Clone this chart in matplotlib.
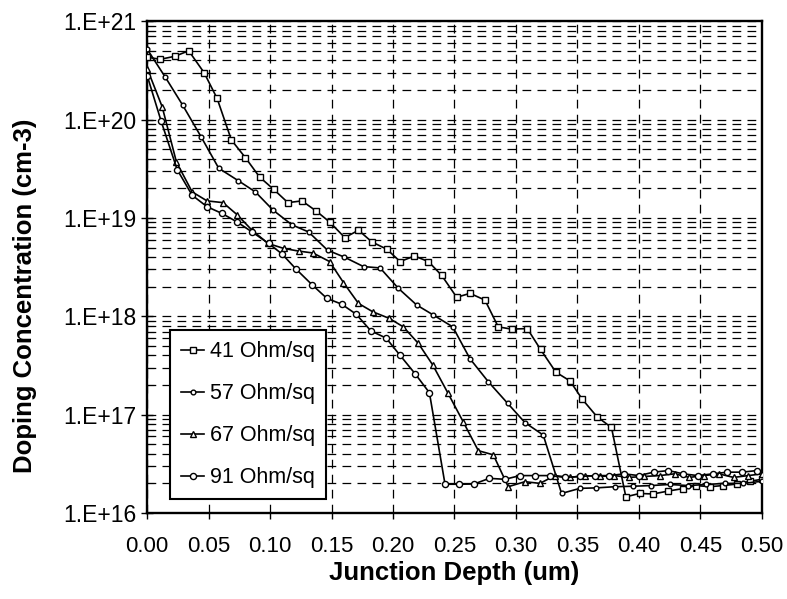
import numpy as np
import matplotlib
matplotlib.use('Agg')
import matplotlib.pyplot as plt
from matplotlib.ticker import LogLocator, FixedLocator, NullFormatter

plt.rcParams['font.family'] = ['Liberation Sans', 'DejaVu Sans']

# --- data ---
x_41 = [0.0, 0.0108, 0.0225, 0.0338, 0.0463, 0.0569, 0.0685, 0.0799, 0.0915, 0.1029,
        0.1145, 0.1259, 0.1373, 0.1484, 0.1608, 0.1719, 0.1828, 0.195, 0.2058, 0.2174,
        0.2288, 0.2396, 0.2518, 0.2626, 0.2748, 0.2856, 0.2965, 0.3092, 0.32, 0.3325,
        0.344, 0.354, 0.366, 0.3777, 0.3894, 0.4007, 0.4115, 0.4237, 0.4359, 0.4468,
        0.4576, 0.4684, 0.4798, 0.49, 0.5]
y_41 = [4.3e20, 4.1e20, 4.4e20, 5.0e20, 3.0e20, 1.64e20, 6.2e19, 4.1e19, 2.6e19, 1.95e19,
        1.43e19, 1.49e19, 1.18e19, 9.1e18, 6.3e18, 7.5e18, 5.7e18, 4.8e18, 3.6e18, 4.1e18,
        3.6e18, 2.6e18, 1.56e18, 1.71e18, 1.46e18, 7.8e17, 7.4e17, 7.5e17, 4.6e17, 2.7e17,
        2.2e17, 1.43e17, 9.5e16, 7.4e16, 1.46e16, 1.58e16, 1.56e16, 1.67e16, 1.77e16, 1.9e16,
        1.85e16, 1.9e16, 1.97e16, 2.1e16, 2.2e16]

x_57 = [0.0, 0.0149, 0.0289, 0.0441, 0.0582, 0.0739, 0.088, 0.1024, 0.1178, 0.1313,
        0.1467, 0.1603, 0.176, 0.1895, 0.2044, 0.2193, 0.2328, 0.2486, 0.2626, 0.2775,
        0.2933, 0.3073, 0.3222, 0.3371, 0.352, 0.3655, 0.3804, 0.395, 0.41, 0.425,
        0.44, 0.455, 0.47, 0.485, 0.5]
y_57 = [5.2e20, 2.68e20, 1.4e20, 6.6e19, 3.2e19, 2.4e19, 1.84e19, 1.2e19, 8.5e18, 7.2e18,
        4.7e18, 4.0e18, 3.2e18, 3.1e18, 1.92e18, 1.3e18, 1.03e18, 7.8e17, 3.7e17, 2.16e17,
        1.3e17, 8.3e16, 6.2e16, 1.58e16, 1.78e16, 1.8e16, 1.85e16, 1.87e16, 1.9e16, 1.95e16,
        1.9e16, 1.95e16, 2.0e16, 2.0e16, 2.1e16]

x_67 = [0.0, 0.0122, 0.0238, 0.0366, 0.0487, 0.0617, 0.0731, 0.0853, 0.0983, 0.111,
        0.1232, 0.1349, 0.1484, 0.1597, 0.1719, 0.1836, 0.1971, 0.2084, 0.2206, 0.2323,
        0.2445, 0.2572, 0.2694, 0.2816, 0.2937, 0.3073, 0.3195, 0.3317, 0.344, 0.356,
        0.368, 0.38, 0.392, 0.404, 0.417, 0.429, 0.441, 0.453, 0.465, 0.477,
        0.489, 0.5]
y_67 = [3.3e20, 1.35e20, 3.7e19, 1.84e19, 1.49e19, 1.43e19, 1.08e19, 7.5e18, 5.5e18, 4.9e18,
        4.6e18, 4.4e18, 3.6e18, 2.2e18, 1.35e18, 1.11e18, 9.5e17, 7.8e17, 5.3e17, 3.2e17,
        1.67e17, 8.4e16, 4.3e16, 3.9e16, 1.85e16, 2.08e16, 2.0e16, 2.4e16, 2.3e16, 2.4e16,
        2.35e16, 2.4e16, 2.3e16, 2.35e16, 2.4e16, 2.5e16, 2.3e16, 2.4e16, 2.5e16, 2.3e16,
        2.4e16, 2.5e16]

x_91 = [0.0, 0.0114, 0.0244, 0.0366, 0.0487, 0.0609, 0.0731, 0.0853, 0.0988, 0.1097,
        0.1213, 0.134, 0.1462, 0.1581, 0.17, 0.182, 0.1944, 0.2058, 0.218, 0.2296,
        0.2423, 0.254, 0.2659, 0.2783, 0.291, 0.3033, 0.3154, 0.3276, 0.3398, 0.352,
        0.364, 0.376, 0.388, 0.4, 0.412, 0.424, 0.436, 0.448, 0.46, 0.472,
        0.484, 0.496]
y_91 = [2.8e20, 9.6e19, 3.1e19, 1.7e19, 1.3e19, 1.11e19, 9.1e18, 7.2e18, 5.5e18, 4.3e18,
        3.0e18, 2.1e18, 1.52e18, 1.33e18, 1.05e18, 7.1e17, 6.0e17, 4.0e17, 2.6e17, 1.67e17,
        1.96e16, 1.96e16, 1.97e16, 2.25e16, 2.2e16, 2.4e16, 2.4e16, 2.4e16, 2.3e16, 2.35e16,
        2.4e16, 2.4e16, 2.5e16, 2.4e16, 2.6e16, 2.7e16, 2.5e16, 2.4e16, 2.5e16, 2.6e16,
        2.6e16, 2.7e16]

series_labels = ['41 Ohm/sq', '57 Ohm/sq', '67 Ohm/sq', '91 Ohm/sq']
x_ticks = [0.00, 0.05, 0.10, 0.15, 0.20, 0.25, 0.30, 0.35, 0.40, 0.45, 0.50]
y_ticks = [1e16, 1e17, 1e18, 1e19, 1e20, 1e21]
y_tick_labels = ['1.E+16', '1.E+17', '1.E+18', '1.E+19', '1.E+20', '1.E+21']

fig = plt.figure(figsize=(7.87, 5.99), dpi=100)
ax = fig.add_axes([0.187, 0.1436, 0.781, 0.821])

styles = [('s', 4.8), ('o', 3.4), ('^', 4.6), ('o', 4.4)]
for (xs, ys), lab, (mk, ms) in zip([(x_41, y_41), (x_57, y_57), (x_67, y_67), (x_91, y_91)],
                                   series_labels, styles):
    ax.plot(xs, ys, color='black', lw=1.2, marker=mk, ms=ms, mfc='white',
            mec='black', mew=1.0, label=lab, zorder=3)

ax.set_yscale('log')
ax.set_xlim(0, 0.5)
ax.set_ylim(1e16, 1e21)

ax.xaxis.set_major_locator(FixedLocator(x_ticks))
ax.set_xticklabels([f'{v:.2f}' for v in x_ticks])
ax.yaxis.set_major_locator(FixedLocator(y_ticks))
ax.set_yticklabels(y_tick_labels)
ax.yaxis.set_minor_locator(LogLocator(base=10, subs=np.arange(2, 10), numticks=20))
ax.yaxis.set_minor_formatter(NullFormatter())

# dashed grid everywhere
dash = (0, (7, 5))
ax.grid(True, axis='x', which='major', color='black', lw=0.9, linestyle=dash)
ax.grid(True, axis='y', which='both', color='black', lw=0.9, linestyle=dash)
ax.set_axisbelow(True)

for sp in ax.spines.values():
    sp.set_linewidth(1.7)
    sp.set_color('black')

ax.tick_params(axis='x', direction='out', length=4.5, width=1.0, pad=12, labelsize=16)
ax.tick_params(axis='y', which='major', direction='inout', length=8, width=1.0, pad=4, labelsize=16.5)
ax.tick_params(axis='y', which='minor', direction='in', length=5, width=0.8)

ax.set_xlabel('Junction Depth (um)', fontsize=18.5, fontweight='bold', labelpad=3)
ax.set_ylabel('Doping Concentration (cm-3)', fontsize=18.5, fontweight='bold')
ax.yaxis.set_label_coords(-0.18, 0.441)

leg = ax.legend(loc='lower left', bbox_to_anchor=(0.037, 0.028), fontsize=15.5,
                frameon=True, fancybox=False, framealpha=1, edgecolor='black',
                handlelength=1.1, handletextpad=0.25, labelspacing=0.98,
                borderpad=0.5, borderaxespad=0)
leg.get_frame().set_linewidth(1.5)

plt.savefig('out.png', dpi=100)
